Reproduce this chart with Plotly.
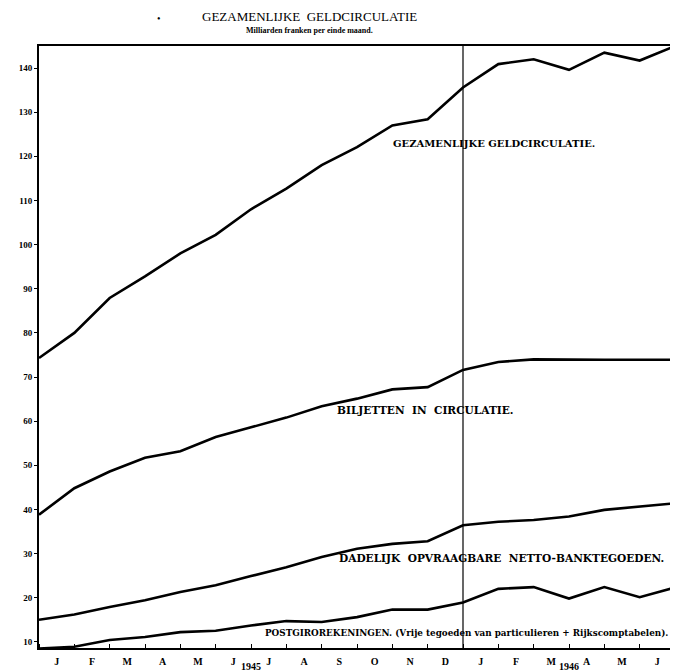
import plotly.graph_objects as go

# month-end index 0 = end Dec 1944 ... 18 = end Jun 1946
month_index = list(range(19))
gezamenlijke = [74.3, 80.0, 87.9, 92.8, 98.0, 102.2, 108.0, 112.7, 118.0, 122.1,
                127.0, 128.4, 135.6, 140.9, 142.0, 139.6, 143.5, 141.7, 145.0]
biljetten = [38.8, 44.8, 48.6, 51.7, 53.2, 56.4, 58.6, 60.8, 63.4, 65.1,
             67.2, 67.7, 71.6, 73.4, 74.0, 73.9, 73.9, 73.9, 73.9]
dadelijk = [15.0, 16.2, 17.9, 19.4, 21.3, 22.8, 24.9, 26.9, 29.2, 31.1,
            32.2, 32.8, 36.4, 37.2, 37.6, 38.4, 39.9, 40.6, 41.4]
postgiro = [8.5, 8.9, 10.4, 11.1, 12.2, 12.5, 13.7, 14.7, 14.5, 15.6,
            17.3, 17.3, 18.9, 22.0, 22.4, 19.8, 22.4, 20.1, 22.3]

month_labels = ["J", "F", "M", "A", "M", "J", "J", "A", "S", "O", "N", "D",
                "J", "F", "M", "A", "M", "J"]
month_pos = [i + 0.5 for i in range(18)]
years = ["1945", "1946"]
year_pos = [6, 15]
y_ticks = list(range(10, 150, 10))
divider = 12

series_labels = [
    ("GEZAMENLIJKE GELDCIRCULATIE.", 12.88, 122.8, "center", 10),
    ("BILJETTEN  IN  CIRCULATIE.", 10.95, 62.5, "center", 10.6),
    ("DADELIJK  OPVRAAGBARE  NETTO-BANKTEGOEDEN.", 13.08, 28.9, "center", 10.6),
    ("POSTGIROREKENINGEN. (Vrije tegoeden van particulieren + Rijkscomptabelen).", 17.87, 12.0, "right", 8.8),
]

FONT = "Liberation Serif"
LABEL_FONT = "DejaVu Serif"
fig = go.Figure()
for ys in [gezamenlijke, biljetten, dadelijk, postgiro]:
    fig.add_trace(go.Scatter(x=month_index, y=ys, mode="lines",
                             line=dict(color="black", width=2.6),
                             showlegend=False, hoverinfo="skip"))

fig.add_shape(type="line", x0=divider, x1=divider, y0=0, y1=1, yref="paper",
              line=dict(color="black", width=1.2))

for text, x, y, anchor, size in series_labels:
    fig.add_annotation(x=x, y=y, text="<b>" + text + "</b>", showarrow=False,
                       xanchor=anchor, yanchor="middle",
                       font=dict(family=LABEL_FONT, size=size, color="black"))

for t, x in zip(years, year_pos):
    fig.add_annotation(x=x, y=0, yref="paper", text="<b>" + t + "</b>", showarrow=False,
                       yanchor="top", yshift=-11, font=dict(family=FONT, size=10, color="black"))

fig.add_annotation(x=0.426, y=1, xref="paper", yref="paper", yshift=30, yanchor="middle",
                   text="GEZAMENLIJKE  GELDCIRCULATIE", showarrow=False,
                   font=dict(family=FONT, size=13, color="black"))
fig.add_annotation(x=0.426, y=1, xref="paper", yref="paper", yshift=16, yanchor="middle",
                   text="<b>Milliarden franken per einde maand.</b>", showarrow=False,
                   font=dict(family=FONT, size=8, color="black"))
fig.add_annotation(x=0.182, y=1, xref="paper", yref="paper", yshift=28, yanchor="middle",
                   text="•", showarrow=False,
                   font=dict(family=FONT, size=10, color="black"))

fig.update_xaxes(range=[0, 18], tickvals=month_pos, ticktext=["<b>%s</b>" % m for m in month_labels],
                 ticks="", showgrid=False, zeroline=False, automargin=False,
                 ticklabelstandoff=3,
                 showline=True, linecolor="black", linewidth=2, mirror=True,
                 tickfont=dict(family=FONT, size=10, color="black"),
                 minor=dict(tick0=0, dtick=1, ticks="inside", ticklen=4, tickcolor="black"))
fig.update_yaxes(range=[8.6, 145], tickvals=y_ticks,
                 ticktext=["<b>%d</b>" % v for v in y_ticks],
                 ticks="outside", ticklen=3, tickcolor="black", automargin=False,
                 showgrid=False, zeroline=False,
                 showline=True, linecolor="black", linewidth=2, mirror=True,
                 tickfont=dict(family=FONT, size=9, color="black"))

# page body adds an 8px offset, so the figure is sized to fill the rest of the window
fig.update_layout(width=670, height=664, margin=dict(l=31, r=3, t=38, b=24),
                  plot_bgcolor="white", paper_bgcolor="white")
fig.write_html("out.html")
